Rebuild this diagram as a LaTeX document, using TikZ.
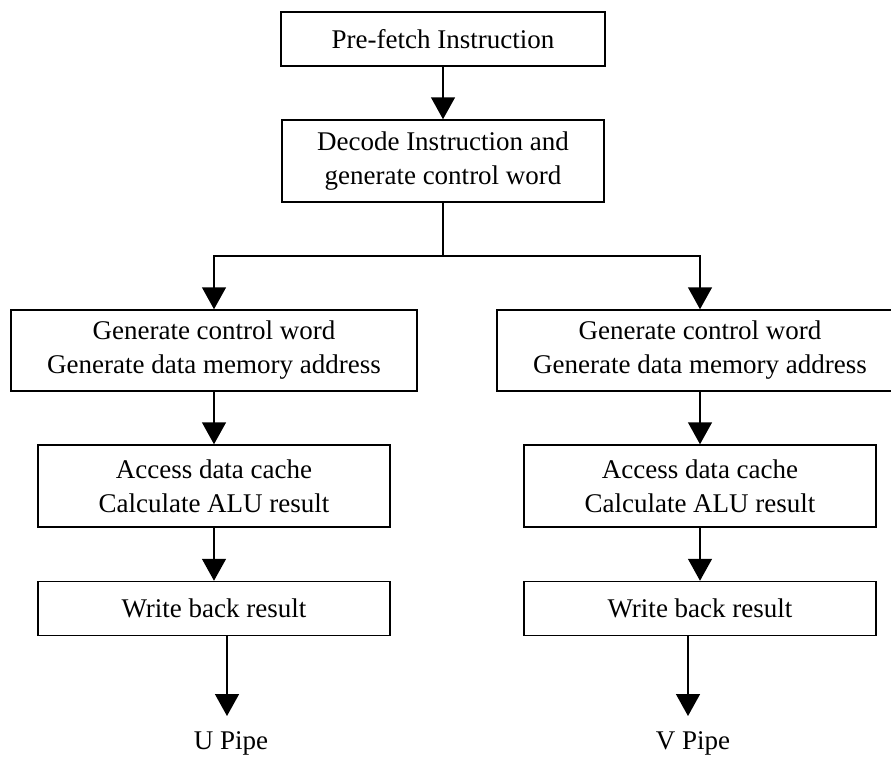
\documentclass[tikz,border=0pt]{standalone}
\usepackage{fontspec}
\setmainfont{Liberation Serif}
\usetikzlibrary{arrows.meta, positioning}

\begin{document}
\begin{tikzpicture}[
    x=1pt, y=-1pt,
    stage/.style={draw, line width=1.5pt, inner sep=0pt, align=center,
      font=\fontsize{27}{34}\selectfont},
    pipename/.style={inner sep=0pt, font=\fontsize{27}{34}\selectfont},
    flow/.style={line width=1.5pt, -{Triangle[width=24pt, length=22pt]}},
  ]
    \useasboundingbox (0,0) rectangle (891,758);
    \clip (0,0) rectangle (891,758);

    % common stages
    \node[stage, minimum width=324pt, minimum height=54pt] (fetch) at (443,39) {Pre-fetch Instruction};
    \node[stage, minimum width=322pt, minimum height=82pt] (decode) at (443,161) {Decode Instruction and\\generate control word};

    % U pipe
    \node[stage, minimum width=406pt, minimum height=81pt] (addrU) at (214,350.5) {Generate control word\\Generate data memory address};
    \node[stage, minimum width=352pt, minimum height=82pt] (aluU) at (214,486) {Access data cache\\Calculate ALU result};
    \node[stage, minimum width=352pt, minimum height=54pt] (wbU) at (214,608.5) {Write back result};
    \node[pipename] (upipe) at (231,743) {U Pipe};

    % V pipe
    \node[stage, minimum width=406pt, minimum height=81pt] (addrV) at (700,350.5) {Generate control word\\Generate data memory address};
    \node[stage, minimum width=352pt, minimum height=82pt] (aluV) at (700,486) {Access data cache\\Calculate ALU result};
    \node[stage, minimum width=352pt, minimum height=54pt] (wbV) at (700,608.5) {Write back result};
    \node[pipename] (vpipe) at (693,743) {V Pipe};

    \coordinate (split) at (443,256);
    \coordinate (uend) at (227,716);
    \coordinate (vend) at (688,716);

    \draw[flow] (fetch) -- (decode);
    \draw[line width=1.5pt] (decode.south) -- (split);
    \draw[flow] (split) -| (addrU.north);
    \draw[flow] (split) -| (addrV.north);
    \draw[flow] (addrU) -- (aluU);
    \draw[flow] (aluU) -- (wbU);
    \draw[flow] (wbU.south -| uend) -- (uend);
    \draw[flow] (addrV) -- (aluV);
    \draw[flow] (aluV) -- (wbV);
    \draw[flow] (wbV.south -| vend) -- (vend);
\end{tikzpicture}
\end{document}
